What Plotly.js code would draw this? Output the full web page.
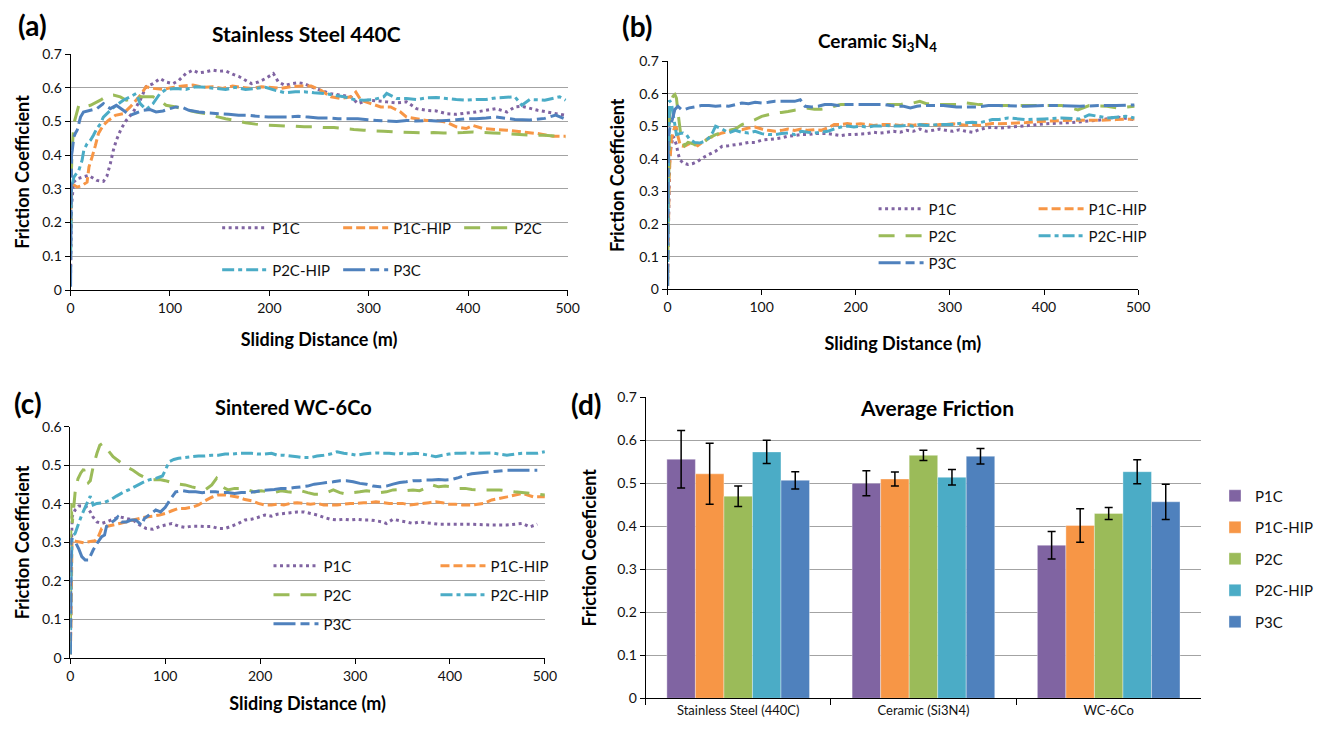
<!DOCTYPE html>
<html><head><meta charset="utf-8">
<script src="https://cdn.plot.ly/plotly-3.0.1.min.js"></script>
<style>html,body{margin:0;padding:0;background:#fff;}#chart{width:1318px;height:729px;}</style>
</head><body><div id="chart"></div>
<script>
// ---------- series meta ----------
const seriesNames = ['P1C', 'P1C-HIP', 'P2C', 'P2C-HIP', 'P3C'];

// ---------- (a) Stainless Steel 440C ----------
const a_P1C_x = [0, 1, 3, 6.6, 18, 26.5, 33, 36.5, 40, 43, 46, 51, 56, 63, 70, 76, 83, 90, 96, 103, 109, 116, 123, 129, 136, 143, 149, 156, 163, 169, 176, 182, 189, 196, 204, 209, 216, 222, 229, 235, 242, 252, 262, 272, 282, 289, 299, 308, 318, 328, 338, 348, 358, 368, 378, 388, 398, 408, 418, 428, 439, 447, 454, 470, 485, 498];
const a_P1C_y = [0.05, 0.25, 0.32, 0.33, 0.34, 0.325, 0.322, 0.337, 0.375, 0.414, 0.444, 0.479, 0.503, 0.528, 0.563, 0.603, 0.612, 0.627, 0.617, 0.612, 0.622, 0.642, 0.652, 0.644, 0.647, 0.652, 0.649, 0.650, 0.640, 0.634, 0.622, 0.612, 0.617, 0.627, 0.642, 0.617, 0.607, 0.612, 0.615, 0.612, 0.603, 0.592, 0.582, 0.578, 0.573, 0.553, 0.563, 0.561, 0.558, 0.555, 0.558, 0.538, 0.533, 0.531, 0.523, 0.521, 0.525, 0.528, 0.533, 0.538, 0.528, 0.543, 0.545, 0.533, 0.525, 0.518];
const a_P1CHIP_x = [0, 0.8, 1.7, 6.6, 11.6, 16.6, 18.5, 21.6, 25, 28, 33, 38, 45, 53, 60, 70, 76, 83, 93, 103, 113, 123, 133, 143, 153, 163, 172, 182, 192, 202, 212, 222, 232, 242, 252, 262, 272, 282, 287, 292, 302, 312, 322, 332, 338, 348, 358, 368, 378, 388, 398, 405, 415, 428, 439, 454, 470, 485, 498];
const a_P1CHIP_y = [0.2, 0.3, 0.315, 0.305, 0.310, 0.320, 0.365, 0.394, 0.429, 0.464, 0.489, 0.503, 0.518, 0.523, 0.543, 0.577, 0.603, 0.598, 0.595, 0.601, 0.605, 0.608, 0.601, 0.603, 0.598, 0.605, 0.601, 0.598, 0.603, 0.601, 0.598, 0.603, 0.605, 0.605, 0.592, 0.573, 0.568, 0.573, 0.587, 0.563, 0.553, 0.543, 0.543, 0.528, 0.513, 0.508, 0.503, 0.503, 0.498, 0.484, 0.479, 0.488, 0.479, 0.476, 0.474, 0.469, 0.464, 0.456, 0.456];
const a_P2C_x = [0, 0.8, 1.7, 3.3, 8.3, 13, 20, 30, 36.5, 43, 50, 56, 63, 70, 76, 83, 90, 96, 106, 116, 126, 136, 146, 156, 166, 176, 186, 196, 206, 216, 226, 235, 245, 255, 265, 275, 285, 295, 305, 315, 325, 335, 345, 355, 365, 375, 385, 395, 405, 415, 425, 439, 462, 477, 498];
const a_P2C_y = [0.1, 0.35, 0.424, 0.493, 0.548, 0.543, 0.548, 0.563, 0.575, 0.578, 0.573, 0.563, 0.568, 0.573, 0.573, 0.573, 0.563, 0.548, 0.543, 0.535, 0.528, 0.523, 0.515, 0.508, 0.503, 0.496, 0.492, 0.489, 0.488, 0.486, 0.486, 0.484, 0.484, 0.482, 0.482, 0.479, 0.476, 0.474, 0.472, 0.471, 0.469, 0.468, 0.467, 0.466, 0.467, 0.466, 0.466, 0.467, 0.469, 0.467, 0.466, 0.464, 0.459, 0.459, 0.454];
const a_P2CHIP_x = [0, 0.8, 1.7, 3.3, 8.3, 11.6, 13.3, 16.6, 20, 23, 26.5, 30, 33, 40, 46, 53, 60, 66, 70, 76, 83, 90, 96, 106, 116, 126, 136, 146, 156, 166, 176, 186, 196, 206, 216, 226, 235, 245, 255, 265, 275, 285, 295, 305, 315, 318, 328, 338, 348, 358, 368, 378, 388, 398, 408, 418, 428, 447, 454, 462, 477, 492, 498];
const a_P2CHIP_y = [0.1, 0.3, 0.315, 0.335, 0.355, 0.385, 0.414, 0.434, 0.444, 0.459, 0.479, 0.493, 0.513, 0.533, 0.548, 0.563, 0.573, 0.583, 0.553, 0.535, 0.553, 0.583, 0.595, 0.598, 0.595, 0.603, 0.601, 0.598, 0.595, 0.601, 0.595, 0.598, 0.601, 0.592, 0.585, 0.588, 0.588, 0.585, 0.583, 0.578, 0.573, 0.565, 0.563, 0.565, 0.573, 0.583, 0.568, 0.568, 0.565, 0.570, 0.571, 0.568, 0.565, 0.563, 0.565, 0.565, 0.570, 0.573, 0.548, 0.565, 0.563, 0.573, 0.563];
const a_P3C_x = [0, 0.5, 1, 1.7, 3.3, 5, 6.6, 10, 13, 20, 26.5, 33, 36.5, 40, 46, 53, 60, 66, 73, 80, 86, 93, 100, 106, 113, 119, 129, 139, 149, 159, 169, 179, 189, 199, 209, 219, 229, 239, 249, 259, 269, 279, 289, 299, 308, 318, 328, 338, 348, 358, 368, 378, 388, 398, 408, 418, 428, 447, 462, 477, 488, 496];
const a_P3C_y = [0.01, 0.25, 0.4, 0.414, 0.454, 0.466, 0.474, 0.513, 0.528, 0.533, 0.538, 0.553, 0.545, 0.538, 0.548, 0.533, 0.518, 0.525, 0.533, 0.535, 0.528, 0.531, 0.538, 0.543, 0.541, 0.533, 0.528, 0.525, 0.523, 0.521, 0.518, 0.518, 0.515, 0.513, 0.513, 0.513, 0.515, 0.513, 0.510, 0.510, 0.508, 0.508, 0.508, 0.505, 0.503, 0.501, 0.500, 0.503, 0.501, 0.503, 0.501, 0.503, 0.505, 0.508, 0.508, 0.510, 0.513, 0.506, 0.504, 0.509, 0.519, 0.509];

// ---------- (b) Ceramic Si3N4 ----------
const b_P1C_x = [0, 1, 2.4, 6, 9.4, 11, 13, 16.4, 21.7, 27, 32, 37, 44, 51, 58, 65, 72, 79, 86, 93, 100, 107, 114, 121, 128, 135, 142, 149, 156, 163, 170, 177, 184, 191, 198, 205, 212, 219, 226, 233, 240, 247, 254, 261, 268, 275, 282, 289, 296, 303, 310, 317, 324, 331, 338, 345, 352, 381, 400, 429, 458, 477, 496];
const b_P1C_y = [0.01, 0.2, 0.419, 0.470, 0.444, 0.419, 0.398, 0.388, 0.383, 0.386, 0.393, 0.403, 0.414, 0.424, 0.439, 0.441, 0.444, 0.447, 0.451, 0.451, 0.458, 0.460, 0.462, 0.465, 0.470, 0.472, 0.475, 0.475, 0.478, 0.478, 0.478, 0.475, 0.472, 0.475, 0.475, 0.477, 0.478, 0.482, 0.480, 0.482, 0.485, 0.482, 0.488, 0.485, 0.492, 0.485, 0.488, 0.492, 0.488, 0.485, 0.490, 0.485, 0.482, 0.490, 0.495, 0.498, 0.495, 0.502, 0.508, 0.512, 0.519, 0.529, 0.521];
const b_P1CHIP_x = [0, 1, 1.7, 4, 7.7, 9.4, 11, 13.6, 18, 23, 28.7, 32, 37, 44, 51, 58, 65, 72, 79, 86, 93, 100, 107, 114, 121, 128, 135, 142, 149, 156, 163, 170, 177, 184, 191, 198, 205, 212, 219, 226, 233, 240, 247, 254, 261, 268, 275, 282, 289, 296, 303, 310, 317, 324, 331, 338, 345, 352, 381, 400, 429, 458, 477, 496];
const b_P1CHIP_y = [0.01, 0.2, 0.352, 0.46, 0.50, 0.495, 0.470, 0.441, 0.439, 0.447, 0.447, 0.441, 0.451, 0.465, 0.472, 0.480, 0.485, 0.492, 0.490, 0.495, 0.498, 0.492, 0.488, 0.485, 0.488, 0.492, 0.488, 0.492, 0.488, 0.490, 0.488, 0.495, 0.506, 0.506, 0.509, 0.506, 0.508, 0.506, 0.503, 0.506, 0.506, 0.506, 0.503, 0.506, 0.504, 0.506, 0.506, 0.503, 0.506, 0.506, 0.508, 0.506, 0.504, 0.506, 0.503, 0.506, 0.509, 0.508, 0.512, 0.516, 0.519, 0.519, 0.521, 0.523];
const b_P2C_x = [0, 1, 2.4, 6, 7.7, 9.4, 12, 14.7, 18, 21.7, 27, 32, 37, 44, 51, 58, 65, 72, 79, 86, 93, 100, 107, 114, 121, 128, 135, 142, 149, 156, 163, 170, 177, 184, 191, 198, 205, 212, 219, 226, 233, 240, 247, 254, 261, 268, 275, 282, 289, 296, 303, 310, 317, 324, 331, 338, 345, 352, 381, 400, 419, 436, 448, 467, 477, 496];
const b_P2C_y = [0.01, 0.3, 0.572, 0.594, 0.598, 0.587, 0.521, 0.460, 0.441, 0.451, 0.447, 0.439, 0.447, 0.465, 0.475, 0.482, 0.488, 0.492, 0.506, 0.513, 0.521, 0.531, 0.536, 0.541, 0.543, 0.546, 0.550, 0.553, 0.556, 0.553, 0.553, 0.556, 0.562, 0.567, 0.567, 0.567, 0.567, 0.567, 0.567, 0.567, 0.567, 0.567, 0.567, 0.572, 0.572, 0.577, 0.570, 0.570, 0.567, 0.567, 0.567, 0.567, 0.572, 0.570, 0.567, 0.567, 0.564, 0.564, 0.564, 0.564, 0.564, 0.551, 0.564, 0.562, 0.557, 0.562];
const b_P2CHIP_x = [0, 0.7, 2, 4, 7.7, 9.4, 13, 16.4, 20, 23, 28.7, 34, 39, 44, 48, 51, 58, 65, 72, 79, 86, 93, 100, 107, 114, 121, 128, 135, 142, 149, 156, 163, 170, 177, 184, 191, 198, 205, 212, 219, 226, 233, 240, 247, 254, 261, 268, 275, 282, 289, 296, 303, 310, 317, 324, 331, 338, 345, 352, 362, 381, 400, 419, 438, 448, 467, 487, 496];
const b_P2CHIP_y = [0.01, 0.3, 0.58, 0.572, 0.506, 0.475, 0.478, 0.480, 0.475, 0.462, 0.451, 0.449, 0.454, 0.465, 0.482, 0.501, 0.492, 0.480, 0.488, 0.482, 0.480, 0.485, 0.478, 0.475, 0.475, 0.478, 0.480, 0.475, 0.485, 0.482, 0.480, 0.482, 0.485, 0.492, 0.498, 0.501, 0.498, 0.501, 0.498, 0.501, 0.501, 0.503, 0.501, 0.501, 0.503, 0.501, 0.506, 0.503, 0.504, 0.506, 0.506, 0.506, 0.509, 0.511, 0.513, 0.511, 0.516, 0.521, 0.521, 0.526, 0.521, 0.523, 0.526, 0.523, 0.536, 0.526, 0.531, 0.526];
const b_P3C_x = [0, 0.7, 2.4, 5, 7.7, 11, 14.7, 18, 23, 28.7, 35.7, 44, 51, 58, 65, 72, 79, 86, 93, 100, 107, 114, 121, 128, 135, 141, 146, 153, 160, 167, 174, 181, 188, 195, 202, 209, 216, 223, 230, 237, 244, 251, 258, 265, 272, 279, 286, 293, 300, 307, 314, 321, 328, 335, 341, 352, 381, 400, 419, 438, 458, 477, 496];
const b_P3C_y = [0.01, 0.470, 0.495, 0.521, 0.552, 0.562, 0.552, 0.552, 0.557, 0.560, 0.564, 0.564, 0.562, 0.564, 0.562, 0.567, 0.572, 0.570, 0.574, 0.572, 0.574, 0.577, 0.577, 0.577, 0.577, 0.582, 0.562, 0.560, 0.562, 0.567, 0.567, 0.564, 0.567, 0.567, 0.567, 0.567, 0.567, 0.567, 0.567, 0.564, 0.562, 0.562, 0.557, 0.562, 0.564, 0.564, 0.564, 0.564, 0.562, 0.560, 0.560, 0.560, 0.560, 0.562, 0.564, 0.564, 0.562, 0.564, 0.564, 0.562, 0.564, 0.564, 0.566];

// ---------- (c) Sintered WC-6Co ----------
const c_P1C_x = [0, 0.7, 1.7, 5, 8.7, 14, 17, 21, 24, 28, 33, 38, 45, 52, 59, 66, 73, 80, 87, 94, 100, 107, 114, 121, 128, 135, 142, 149, 156, 163, 170, 177, 184, 191, 198, 205, 212, 218, 225, 232, 239, 246, 253, 260, 267, 274, 281, 288, 295, 302, 309, 316, 322, 329, 333, 340, 347, 354, 361, 368, 374, 381, 388, 395, 402, 409, 416, 423, 444, 460, 476, 484, 492];
const c_P1C_y = [0.01, 0.2, 0.366, 0.384, 0.394, 0.394, 0.391, 0.379, 0.365, 0.353, 0.349, 0.353, 0.360, 0.366, 0.362, 0.358, 0.345, 0.336, 0.334, 0.341, 0.345, 0.349, 0.342, 0.339, 0.342, 0.342, 0.341, 0.341, 0.336, 0.336, 0.342, 0.349, 0.358, 0.360, 0.365, 0.371, 0.368, 0.373, 0.375, 0.377, 0.379, 0.379, 0.375, 0.371, 0.365, 0.360, 0.358, 0.360, 0.358, 0.360, 0.358, 0.358, 0.356, 0.353, 0.349, 0.360, 0.356, 0.353, 0.349, 0.353, 0.351, 0.349, 0.347, 0.347, 0.347, 0.347, 0.347, 0.347, 0.345, 0.345, 0.349, 0.340, 0.347];
const c_P1CHIP_x = [0, 0.7, 1.7, 7, 14, 21, 26, 29.5, 33, 38, 45, 52, 59, 66, 73, 80, 87, 94, 100, 107, 114, 121, 128, 135, 142, 149, 156, 163, 170, 177, 184, 191, 198, 205, 212, 218, 225, 232, 239, 246, 253, 260, 267, 274, 281, 288, 295, 302, 309, 316, 322, 329, 336, 343, 350, 357, 364, 371, 378, 385, 392, 399, 406, 413, 423, 436, 444, 460, 476, 488, 500];
const c_P1CHIP_y = [0.01, 0.1, 0.306, 0.302, 0.299, 0.302, 0.304, 0.315, 0.336, 0.341, 0.345, 0.349, 0.353, 0.358, 0.362, 0.366, 0.368, 0.371, 0.375, 0.382, 0.388, 0.388, 0.391, 0.397, 0.408, 0.417, 0.423, 0.423, 0.420, 0.417, 0.411, 0.408, 0.401, 0.397, 0.397, 0.399, 0.397, 0.401, 0.403, 0.401, 0.399, 0.401, 0.397, 0.397, 0.397, 0.399, 0.401, 0.401, 0.403, 0.403, 0.405, 0.403, 0.401, 0.401, 0.401, 0.397, 0.399, 0.401, 0.403, 0.405, 0.403, 0.399, 0.399, 0.397, 0.397, 0.401, 0.410, 0.418, 0.427, 0.418, 0.418];
const c_P2C_x = [0, 0.5, 2, 5, 8, 11, 14, 16, 19, 21, 24, 28, 31, 34, 38, 45, 52, 59, 66, 73, 80, 87, 94, 100, 107, 114, 121, 128, 135, 142, 149, 154, 160, 166, 173, 180, 187, 194, 201, 208, 215, 222, 229, 236, 243, 250, 257, 264, 270, 277, 284, 291, 298, 305, 312, 319, 326, 333, 340, 347, 354, 361, 368, 374, 381, 388, 395, 402, 409, 416, 423, 436, 452, 468, 484, 500];
const c_P2C_y = [0.01, 0.405, 0.35, 0.43, 0.465, 0.48, 0.49, 0.47, 0.455, 0.46, 0.496, 0.531, 0.552, 0.557, 0.544, 0.522, 0.509, 0.496, 0.487, 0.475, 0.466, 0.462, 0.463, 0.460, 0.455, 0.451, 0.449, 0.444, 0.440, 0.436, 0.449, 0.466, 0.444, 0.436, 0.440, 0.440, 0.436, 0.431, 0.434, 0.431, 0.429, 0.434, 0.431, 0.429, 0.434, 0.429, 0.425, 0.425, 0.429, 0.436, 0.429, 0.425, 0.429, 0.431, 0.434, 0.431, 0.429, 0.431, 0.436, 0.437, 0.434, 0.436, 0.434, 0.440, 0.449, 0.444, 0.446, 0.444, 0.440, 0.440, 0.437, 0.436, 0.436, 0.431, 0.427, 0.423];
const c_P2CHIP_x = [0, 0.7, 1.7, 5, 8.7, 12, 15.6, 19, 21, 24, 28, 35, 42, 48.5, 55, 62, 69, 76, 83, 90, 97, 100, 104, 109, 114, 121, 128, 135, 142, 149, 156, 163, 170, 177, 184, 191, 198, 205, 212, 218, 225, 232, 239, 246, 253, 260, 267, 274, 281, 288, 295, 302, 309, 316, 322, 329, 336, 343, 350, 357, 364, 371, 378, 385, 392, 399, 406, 413, 420, 426, 444, 460, 476, 492, 500];
const c_P2CHIP_y = [0.01, 0.2, 0.315, 0.323, 0.349, 0.371, 0.391, 0.410, 0.420, 0.397, 0.401, 0.403, 0.410, 0.420, 0.429, 0.437, 0.446, 0.455, 0.462, 0.466, 0.472, 0.487, 0.509, 0.515, 0.518, 0.520, 0.522, 0.524, 0.524, 0.526, 0.526, 0.529, 0.529, 0.531, 0.531, 0.531, 0.529, 0.529, 0.531, 0.526, 0.526, 0.524, 0.522, 0.520, 0.520, 0.524, 0.526, 0.529, 0.535, 0.531, 0.529, 0.526, 0.529, 0.531, 0.532, 0.531, 0.531, 0.529, 0.531, 0.529, 0.531, 0.529, 0.526, 0.522, 0.526, 0.529, 0.531, 0.531, 0.532, 0.531, 0.532, 0.526, 0.531, 0.531, 0.535];
const c_P3C_x = [0, 0.7, 5, 8.7, 12, 15.6, 19, 24, 28, 33, 36, 38, 42, 47, 50, 54, 59, 64, 69, 75, 78, 83, 90, 95, 100, 106, 111, 118, 125, 132, 139, 146, 153, 160, 166, 173, 180, 187, 194, 201, 208, 215, 222, 229, 236, 243, 250, 257, 264, 270, 277, 284, 291, 298, 305, 312, 319, 326, 333, 340, 347, 354, 361, 368, 374, 381, 388, 395, 402, 409, 416, 423, 444, 460, 476, 492];
const c_P3C_y = [0.01, 0.310, 0.302, 0.284, 0.263, 0.254, 0.254, 0.280, 0.297, 0.315, 0.319, 0.341, 0.349, 0.358, 0.366, 0.353, 0.353, 0.358, 0.358, 0.345, 0.362, 0.371, 0.384, 0.379, 0.391, 0.414, 0.431, 0.434, 0.431, 0.431, 0.429, 0.431, 0.431, 0.429, 0.429, 0.427, 0.429, 0.429, 0.431, 0.434, 0.436, 0.437, 0.440, 0.440, 0.442, 0.444, 0.446, 0.451, 0.453, 0.455, 0.457, 0.460, 0.460, 0.457, 0.453, 0.451, 0.446, 0.444, 0.446, 0.451, 0.455, 0.457, 0.460, 0.460, 0.462, 0.462, 0.463, 0.462, 0.463, 0.468, 0.474, 0.478, 0.483, 0.487, 0.487, 0.487];

// ---------- (d) Average friction ----------
const materials = ['Stainless Steel (440C)', 'Ceramic (Si3N4)', 'WC-6Co'];
const avg_P1C = [0.556, 0.500, 0.356];
const err_P1C = [0.067, 0.029, 0.032];
const avg_P1CHIP = [0.522, 0.510, 0.402];
const err_P1CHIP = [0.071, 0.016, 0.039];
const avg_P2C = [0.470, 0.565, 0.430];
const err_P2C = [0.024, 0.012, 0.014];
const avg_P2CHIP = [0.573, 0.514, 0.527];
const err_P2CHIP = [0.027, 0.018, 0.028];
const avg_P3C = [0.507, 0.563, 0.457];
const err_P3C = [0.020, 0.018, 0.041];

// ---------- styles ----------
const colors = ['#8064A2', '#F79646', '#9BBB59', '#4BACC6', '#4F81BD'];
const dashes = ['3px,3.5px', '9px,4px', '16px,11px', '12px,4px,4px,4px', '22px,5px,9px,5px'];
const FONT = 'Lato, "Open Sans", sans-serif';
const W = 1318, H = 729;
const px = v => v / W;
const py = v => 1 - v / H;

const panelA = [[a_P1C_x, a_P1C_y], [a_P1CHIP_x, a_P1CHIP_y], [a_P2C_x, a_P2C_y], [a_P2CHIP_x, a_P2CHIP_y], [a_P3C_x, a_P3C_y]];
const panelB = [[b_P1C_x, b_P1C_y], [b_P1CHIP_x, b_P1CHIP_y], [b_P2C_x, b_P2C_y], [b_P2CHIP_x, b_P2CHIP_y], [b_P3C_x, b_P3C_y]];
const panelC = [[c_P1C_x, c_P1C_y], [c_P1CHIP_x, c_P1CHIP_y], [c_P2C_x, c_P2C_y], [c_P2CHIP_x, c_P2CHIP_y], [c_P3C_x, c_P3C_y]];
const avgs = [avg_P1C, avg_P1CHIP, avg_P2C, avg_P2CHIP, avg_P3C];
const errs = [err_P1C, err_P1CHIP, err_P2C, err_P2CHIP, err_P3C];

const legA = ['legend2', 'legend2', 'legend2', 'legend3', 'legend3'];
const legB = ['legend4', 'legend4', 'legend5', 'legend5', 'legend6'];
const legC = ['legend7', 'legend7', 'legend8', 'legend8', 'legend9'];

const traces = [];
function addLines(panel, xa, ya, legs) {
  panel.forEach((s, i) => {
    traces.push({
      type: 'scatter', mode: 'lines', x: s[0], y: s[1], name: seriesNames[i],
      xaxis: xa, yaxis: ya, legend: legs[i],
      line: {color: colors[i], width: 3, dash: dashes[i], simplify: false},
      hoverinfo: 'x+y+name'
    });
  });
}
addLines(panelA, 'x', 'y', legA);
addLines(panelB, 'x2', 'y2', legB);
addLines(panelC, 'x3', 'y3', legC);
avgs.forEach((v, i) => {
  traces.push({
    type: 'bar', x: materials, y: v, name: seriesNames[i], xaxis: 'x4', yaxis: 'y4',
    legend: 'legend', legendgroup: 'g' + i,
    marker: {color: colors[i], line: {color: 'rgba(255,255,255,0.6)', width: 0.6}},
    error_y: {type: 'data', array: errs[i], visible: true, color: '#000', thickness: 1.5, width: 4}
  });
});

const tickFont = {family: FONT, size: 14, color: '#111'};
const axTitleFont = {family: FONT, size: 18, color: '#000', weight: 700};
function xax(dom, anchor, standoff) {
  return {
    domain: dom, anchor: anchor, range: [0, 500], dtick: 100, tick0: 0,
    showline: true, linecolor: '#000', linewidth: 1, ticks: 'outside', ticklen: 5, tickcolor: '#000',
    showgrid: false, zeroline: false, tickfont: tickFont, fixedrange: true,
    title: {text: 'Sliding Distance (m)', font: axTitleFont, standoff: standoff}
  };
}
function yax(dom, anchor, maxv, titleText, standoff) {
  return {
    domain: dom, anchor: anchor, range: [0, maxv], dtick: 0.1, tick0: 0,
    showline: true, linecolor: '#000', linewidth: 1, ticks: 'outside', ticklen: 5, tickcolor: '#000',
    showgrid: true, gridcolor: '#a3a3a3', gridwidth: 1.2, zeroline: false, tickfont: tickFont, fixedrange: true,
    title: {text: titleText, font: axTitleFont, standoff: standoff}
  };
}
function hleg(x, y, ew) {
  return {orientation: 'h', x: x, y: y, xanchor: 'left', yanchor: 'middle', xref: 'paper', yref: 'paper',
          bgcolor: 'rgba(0,0,0,0)', borderwidth: 0, itemwidth: 45, entrywidth: ew, entrywidthmode: 'pixels',
          font: {family: FONT, size: 15, color: '#111'}, itemclick: false, itemdoubleclick: false};
}
function ann(text, x, y, size) {
  return {text: text, x: px(x), y: py(y), xref: 'paper', yref: 'paper', xanchor: 'center', yanchor: 'middle',
          showarrow: false, font: {family: FONT, size: size, weight: 700, color: '#000'}};
}

const layout = {
  width: W, height: H, margin: {l: 0, r: 0, t: 0, b: 0},
  paper_bgcolor: '#fff', plot_bgcolor: 'rgba(0,0,0,0)',
  font: {family: FONT, size: 14, color: '#000'},
  showlegend: true, barmode: 'group', bargap: 0.23, bargroupgap: 0,
  xaxis: xax([px(71.5), px(575)], 'y', 18),
  yaxis: yax([py(290), py(54)], 'x', 0.7, 'Friction Coefficient', 7),
  xaxis2: xax([px(676.3), px(1153)], 'y2', 23),
  yaxis2: yax([py(289.3), py(61.3)], 'x2', 0.7, 'Friction Coefficient', 9),
  xaxis3: xax([px(71.3), px(552)], 'y3', 14),
  yaxis3: yax([py(658), py(426.7)], 'x3', 0.6, 'Friction Coefficient', 7),
  xaxis4: {domain: [px(654), px(1217)], anchor: 'y4', type: 'category',
           showline: true, linecolor: '#000', linewidth: 1, ticks: 'outside', ticklen: 6, tickcolor: '#000',
           tickson: 'boundaries', showgrid: false, zeroline: false, fixedrange: true,
           tickfont: {family: FONT, size: 13, color: '#111'}},
  yaxis4: yax([py(698.3), py(397.3)], 'x4', 0.7, 'Friction Coeeficient', 15),
  legend: {orientation: 'v', x: px(1231), y: py(559), xanchor: 'left', yanchor: 'middle', xref: 'paper', yref: 'paper',
           tracegroupgap: 9, bgcolor: 'rgba(0,0,0,0)', font: {family: FONT, size: 15, color: '#111'},
           itemclick: false, itemdoubleclick: false},
  legend2: hleg(px(220), py(228), 61),
  legend3: hleg(px(220), py(270), 61),
  legend4: hleg(px(885), py(209), 100),
  legend5: hleg(px(885), py(236), 100),
  legend6: hleg(px(885), py(263), 100),
  legend7: hleg(px(272), py(566), 107),
  legend8: hleg(px(272), py(595), 107),
  legend9: hleg(px(272), py(624), 107),
  annotations: [
    ann('(a)', 33, 25, 28),
    ann('(b)', 645, 26, 28),
    ann('(c)', 28, 403, 28),
    ann('(d)', 594, 404, 28),
    ann('Stainless Steel 440C', 310, 34, 21),
    ann('Ceramic Si<sub>3</sub>N<sub>4</sub>', 889, 42, 19),
    ann('Sintered WC-6Co', 297, 407, 20),
    ann('Average Friction', 949, 407, 21)
  ]
};

Plotly.newPlot('chart', traces, layout, {displayModeBar: false});
</script>
</body></html>
